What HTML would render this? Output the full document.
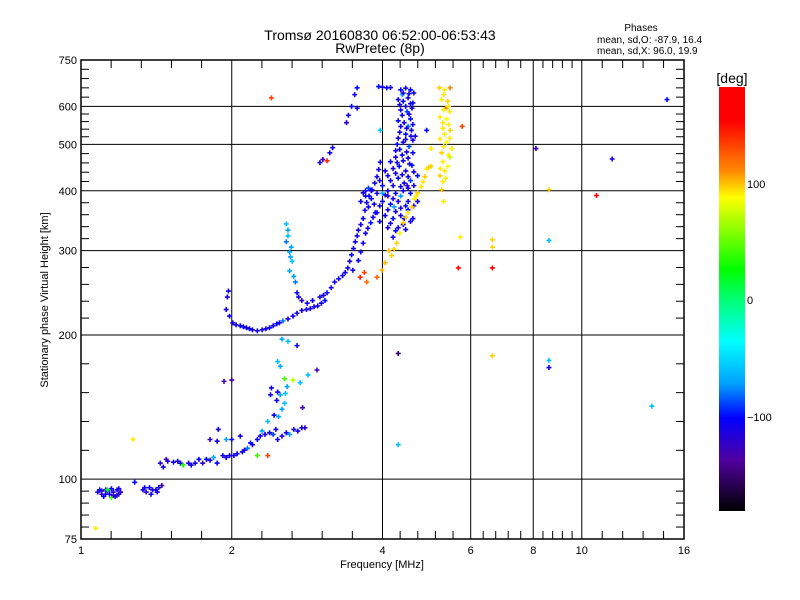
<!DOCTYPE html>
<html><head><meta charset="utf-8"><style>
html,body{margin:0;padding:0;background:#fff;}
svg{display:block;font-family:"Liberation Sans",sans-serif;}
</style></head><body>
<svg id="chart" width="800" height="600" viewBox="0 0 800 600">
<defs>
<linearGradient id="cmap" x1="0" y1="0" x2="0" y2="1">
<stop offset="0" stop-color="#ff0000"/><stop offset="0.08" stop-color="#ff0000"/>
<stop offset="0.2" stop-color="#ff8c00"/><stop offset="0.26" stop-color="#ffff00"/>
<stop offset="0.43" stop-color="#00ff00"/><stop offset="0.51" stop-color="#00ff80"/>
<stop offset="0.6" stop-color="#00ffff"/><stop offset="0.7" stop-color="#00a0ff"/>
<stop offset="0.78" stop-color="#0000ff"/><stop offset="0.88" stop-color="#5000a0"/>
<stop offset="1" stop-color="#000000"/>
</linearGradient>
</defs>
<g id="grid"></g>
<g id="points"></g>
<g id="axes"></g>
<text x="380" y="40" font-size="14" text-anchor="middle">Tromsø 20160830 06:52:00-06:53:43</text>
<text x="380" y="53" font-size="14" text-anchor="middle">RwPretec (8p)</text>
<text x="641" y="31" font-size="10" text-anchor="middle">Phases</text>
<text x="597" y="43" font-size="10">mean, sd,O: -87.9, 16.4</text>
<text x="597" y="54" font-size="10">mean, sd,X:  96.0, 19.9</text>
<text x="382" y="568" font-size="11" text-anchor="middle">Frequency [MHz]</text>
<text transform="translate(48,300) rotate(-90)" font-size="11" text-anchor="middle">Stationary phase Virtual Height [km]</text>
<g>
<rect x="719" y="87" width="26" height="424" fill="url(#cmap)"/>
<text x="732" y="83" font-size="14" text-anchor="middle">[deg]</text>
<text x="747" y="188" font-size="11">100</text>
<text x="747" y="304" font-size="11">0</text>
<text x="747" y="421" font-size="11">−100</text>
</g>
</svg>
<script>
// ---- data (frequency MHz, virtual height km, phase deg) ----
const xLabels = [1, 2, 4, 6, 8, 10, 16];
const xGrid = [2, 4, 6, 8, 10];
const yLabels = [75, 100, 200, 300, 400, 500, 600, 750];
const yGrid = [100, 200, 300, 400, 500, 600];

const eLayerPoints = [[1.08,94,-110],[1.10,93,-120],[1.12,95,-105],[1.14,93,-110],[1.16,94,-115],[1.18,95,-110],[1.19,93,-125],[1.11,92,-110],[1.15,95.5,-100],[1.17,92,-115],[1.13,94.5,-110],[1.20,94,-120],[1.09,95,-105],[1.18,92.5,-110],[1.13,95,20],[1.15,91.5,40],[1.10,94.5,-115],[1.12,93,-110],[1.16,92.5,-120],[1.19,95.5,-110],
[1.33,95,-110],[1.35,94,-120],[1.37,96,-105],[1.39,95,-110],[1.41,95,-115],[1.43,96,-110],[1.45,97,-130],[1.38,93,-110],[1.28,98.5,-100],[1.34,96,-110],[1.42,94,-110]];
const esPoints = [[1.44,108,-120],[1.49,109,-110],[1.53,108.5,-105],[1.58,108,-110],[1.64,108,-115],[1.69,108,-110],[1.75,108,-120],[1.81,109.5,-110],[1.87,108,-105],[1.92,112,-110],[1.98,112,-110],[2.05,113,-105],[2.10,114,-110],[2.15,116,-80],[2.20,118,-110],[2.25,121,-100],[2.33,124,-110],[2.42,124,-90],[2.52,123,-110],[2.61,124,-70],[2.71,126,-110],[2.80,128,-120],
[1.81,121,-120],[1.87,120,-110],[1.95,121,-70],[2.0,121,-110],[2.08,123,-110],[1.60,107,30],[1.48,110,-130],[1.72,110,-100],
[1.46,106,-110],[1.56,109,-110],[1.66,107,-110],[1.78,110,-100],[1.84,111,-70],[1.95,111,-110],[2.02,112,-110],[2.12,115,-110],[2.18,119,-100],[2.28,123,-110],[2.38,125,-110],[2.47,121,-110],[2.57,125,-110],[2.66,127,-110],[2.76,128,-110],[2.30,126,-70],[2.45,127,-110]];
const spreadPoints = [[2.52,140,-70],[2.46,146,-110],[2.50,150,-70],[2.47,152,-110],[2.56,151,-60],[2.40,155,-110],[2.50,172,-70],[2.47,176,-60],[2.52,196,-70],[2.59,194,-60],[2.70,190,-110],[2.84,165,-60],[2.96,169,-130],[2.43,136,-100],[2.36,132,-60],[2.65,161,70],[2.77,141,-130],[2.74,159,-60],[2.39,150,-110],[2.55,162,40],[2.48,135,-70],[2.55,144,-60],[2.58,156,-70]];
const fTracePoints = [[1.97,247,-110],[1.96,240,-110],[1.95,226,-110],[1.98,219,-110],[2.01,212,-110],[2.08,209,-105],[2.14,207,-110],[2.20,205,-110],[2.30,205,-110],[2.38,207,-105],[2.46,211,-100],[2.53,214,-80],[2.65,219,-110],[2.76,225,-110],[2.87,227,-110],[2.97,230,-110],[3.07,236,-100],
[2.04,210,-110],[2.11,208,-110],[2.17,206,-110],[2.25,204,-110],[2.34,206,-110],[2.42,209,-110],[2.49,212,-110],[2.59,216,-110],[2.70,222,-110],[2.82,226,-110],[2.92,229,-110],[3.02,233,-110],
[2.57,341,-60],[2.59,331,-70],[2.57,313,-80],[2.61,298,-70],[2.64,285,-60],[2.61,272,-70],[2.68,258,-80],[2.70,245,-110],[2.76,236,-120],[2.83,233,-110],[2.90,236,-110],[3.0,240,-110],[3.1,245,-105],[3.21,258,-110],[3.33,266,-110],[3.41,276,-110],[3.47,294,-100],[3.53,313,-110],[3.58,331,-110],[3.66,350,-105],[3.72,378,-110],[3.81,402,-100],[3.9,428,-110],[3.96,459,-110],
[2.59,322,-60],[2.63,305,-70],[2.62,291,-70],[2.66,265,-70],[2.72,240,-110],[3.05,242,-110],[3.16,251,-110],[3.27,262,-110],[3.37,270,-110],[3.44,285,-110],[3.50,303,-110],[3.56,322,-110],[3.62,340,-110],[3.69,364,-110],[3.76,390,-110],[3.86,415,-110],[3.93,443,-110],
[3.49,273,-110],[3.58,286,-100],[3.66,311,-110],[3.70,326,-110],[3.79,343,-100],[3.87,360,-110],[3.66,396,-110],[3.70,390,-100],[3.62,380,-110],[3.75,405,-90],[3.83,352,-110],[3.74,334,-110],[3.62,298,-110]];
const blobPoints = [[4.35,650,-100],[4.45,655,-110],[4.55,650,-100],[4.3,620,-110],[4.4,615,-100],[4.5,625,-110],[4.6,610,-100],[4.35,590,-110],[4.48,585,-90],[4.58,595,-110],[4.3,560,-100],[4.42,555,-110],[4.55,565,-100],[4.33,530,-110],[4.45,525,-100],[4.57,535,-110],[4.28,500,-100],[4.4,505,-110],[4.52,495,-90],[4.6,510,-110],[4.25,470,-110],[4.38,475,-100],[4.5,468,-110],[4.6,480,-100],[4.2,445,-110],[4.32,450,-100],[4.45,440,-110],[4.58,452,-100],[4.15,420,-110],[4.3,425,-100],[4.42,415,-110],[4.55,420,-90],[4.1,400,-110],[4.25,395,-100],[4.4,400,-110],[4.55,395,-100],[4.0,380,-110],[4.15,375,-100],[4.3,380,-110],[4.45,372,-100],[3.9,395,-110],[3.8,385,-100],[3.7,400,-110],[3.75,370,-110],[3.9,360,-100],[4.05,355,-110],[4.2,350,-100],[4.35,355,-110],[4.5,365,-100],[4.1,335,-110],[4.25,330,-100],[4.4,340,-110],[4.6,350,-100],[4.7,380,-110],[4.7,430,-100],[4.65,520,-110],[4.2,320,-110],[4.62,640,-110],[4.38,635,-70],[4.5,545,-80],[4.25,485,-110],[4.48,410,-120],[4.0,410,-100],[4.05,440,-110],[4.15,460,-100],[4.1,390,-120],[3.95,345,-110],[4.35,390,-70],
[4.40,640,-110],[4.52,638,-110],[4.33,605,-110],[4.45,600,-110],[4.55,608,-110],[4.38,575,-110],[4.52,578,-110],[4.35,545,-110],[4.47,540,-110],[4.6,550,-110],[4.3,515,-110],[4.45,512,-110],[4.56,520,-110],[4.33,488,-110],[4.47,482,-110],[4.28,458,-110],[4.4,462,-110],[4.53,455,-110],[4.25,435,-110],[4.38,432,-110],[4.5,428,-110],[4.62,438,-110],[4.2,410,-110],[4.35,408,-110],[4.5,405,-110],[4.62,410,-110],[4.05,392,-110],[4.2,385,-110],[4.35,368,-110],[4.5,380,-110],[4.62,372,-110],[3.95,372,-110],[4.1,365,-110],[4.25,362,-110],[4.42,350,-110],[4.55,345,-110],[4.15,342,-110],[4.3,335,-110],[4.45,332,-110],[3.85,375,-110],[3.8,400,-110],[3.95,420,-110],[4.1,430,-110],[4.0,395,-70],[4.22,370,-70],
[3.93,660,-100],[4.0,658,-110],[4.08,656,-100],[4.15,657,-110]];
const xTracePoints = [[3.61,264,140],[3.72,258,120],[3.9,264,120],[3.99,273,100],[4.05,283,100],[4.17,293,95],[4.27,311,95],[4.33,326,90],[4.4,343,95],[4.5,360,90],[4.58,370,95],[4.63,384,90],[4.7,396,95],[4.78,408,90],[4.86,428,95],[4.9,444,90],[5.0,450,95],[3.68,270,130],[4.12,300,100],[4.22,302,95],[4.45,352,95],[4.67,390,90],[4.82,418,90],[4.95,448,95],
[5.2,656,95],[5.32,650,90],[5.46,656,110],[5.25,620,90],[5.4,615,95],[5.21,570,90],[5.37,565,85],[5.28,540,90],[5.46,535,95],[5.21,513,90],[5.37,505,85],[5.5,490,90],[5.25,480,95],[5.28,460,90],[5.4,450,85],[5.21,430,95],[5.28,418,90],[5.25,402,95],[5.0,490,90],[5.35,595,110],[5.45,470,70],[5.3,380,90],
[5.3,635,90],[5.42,600,90],[5.3,590,90],[5.45,585,90],[5.28,555,90],[5.42,550,90],[5.32,525,90],[5.45,515,90],[5.3,495,90],[5.42,475,90],[5.33,440,90],[5.22,445,90],[5.35,425,90]];
const upperTracePoints = [[3.56,656,-100],[3.52,635,-110],[3.47,600,-100],[3.56,595,-110],[3.42,575,-110],[3.39,555,-120],[3.18,492,-110],[3.14,480,-110],[3.04,465,-130],[3.0,458,-110],[3.1,462,140]];
const isolatedPoints = [[2.4,625,130],[3.96,535,-60],[4.9,535,-100],[5.77,545,130],[8.1,490,-130],[8.6,402,95],[8.6,315,-60],[5.72,320,90],[5.67,276,150],[6.63,316,95],[6.63,305,95],[6.63,276,160],[10.7,391,160],[11.5,466,-110],[14.8,620,-100],[6.63,181,95],[8.6,177,-60],[8.6,171,-110],[4.3,183,-150],[4.3,118,-60],[13.8,142,-60],[1.27,121,90],[1.07,79,90],[2.0,161,-130],[1.93,160,-130],[2.36,112,130],[2.25,112,40],[1.88,127,-110]];

// ---- axes ----
const X0 = 81, X1 = 684, YT = 60, YB = 539;
function xs(f){ return X0 + (X1 - X0) * Math.log2(f) / 4; }
function ys(h){ return YB - (YB - YT) * Math.log10(h / 75); }
function phaseColor(p){
  const t = Math.max(0, Math.min(1, (180 - p) / 360));
  const st = [[0,[255,0,0]],[0.08,[255,0,0]],[0.2,[255,140,0]],[0.26,[255,255,0]],[0.43,[0,255,0]],[0.51,[0,255,128]],[0.6,[0,255,255]],[0.7,[0,160,255]],[0.78,[0,0,255]],[0.88,[80,0,160]],[1,[0,0,0]]];
  for (let i = 1; i < st.length; i++) {
    if (t <= st[i][0]) {
      const a = st[i-1], b = st[i], u = (t - a[0]) / (b[0] - a[0] || 1);
      const c = a[1].map((v, k) => Math.round(v + (b[1][k] - v) * u));
      return 'rgb(' + c.join(',') + ')';
    }
  }
  return '#000';
}
const NS = 'http://www.w3.org/2000/svg';
function mk(tag, attrs, parent){
  const e = document.createElementNS(NS, tag);
  for (const k in attrs) e.setAttribute(k, attrs[k]);
  parent.appendChild(e);
  return e;
}
const grid = document.getElementById('grid');
const axes = document.getElementById('axes');
const pts = document.getElementById('points');

xGrid.forEach(f => {
  const l = mk('line', {x1: xs(f), x2: xs(f), y1: YT, y2: YB, stroke: '#000', 'stroke-width': 1}, grid);
  
  
});
yGrid.forEach(h => {
  const l = mk('line', {x1: X0, x2: X1, y1: ys(h), y2: ys(h), stroke: '#000', 'stroke-width': 1}, grid);
  
  
});

for (let i = 0; i < xLabels.length - 1; i++) {
  const a = xLabels[i], b = xLabels[i+1];
  for (let k = 1; k < 5; k++) {
    const f = a * Math.pow(b / a, k / 5);
    mk('line', {x1: xs(f), x2: xs(f), y1: YB, y2: YB - 8, stroke: '#000'}, axes);
    mk('line', {x1: xs(f), x2: xs(f), y1: YT, y2: YT + 8, stroke: '#000'}, axes);
  }
}
for (let i = 0; i < yLabels.length - 1; i++) {
  const a = yLabels[i], b = yLabels[i+1];
  for (let k = 1; k < 5; k++) {
    const h = a * Math.pow(b / a, k / 5);
    mk('line', {x1: X0, x2: X0 + 8, y1: ys(h), y2: ys(h), stroke: '#000'}, axes);
    mk('line', {x1: X1, x2: X1 - 8, y1: ys(h), y2: ys(h), stroke: '#000'}, axes);
  }
}
const frame = mk('rect', {x: X0, y: YT, width: X1 - X0, height: YB - YT, fill: 'none', stroke: '#000', 'stroke-width': 1.5}, axes);



xLabels.forEach(f => {
  const t = mk('text', {x: xs(f), y: 554, 'font-size': 11, 'text-anchor': 'middle'}, axes);
  t.textContent = f;
  
  
});
yLabels.forEach(h => {
  const t = mk('text', {x: 77, y: ys(h) + 4, 'font-size': 11, 'text-anchor': 'end'}, axes);
  t.textContent = h;
  
  
});

function drawGroup(arr, name){
  const g = mk('g', {}, pts);
  
  
  arr.forEach(p => {
    const x = xs(p[0]), y = ys(p[1]), c = phaseColor(p[2]);
    const m = mk('path', {d: 'M' + (x - 2.5) + ' ' + y + 'h5M' + x + ' ' + (y - 2.5) + 'v5', stroke: c, 'stroke-width': 1.6, fill: 'none'}, g);
    
    
  });
}
drawGroup(eLayerPoints, 'e-layer-echoes');
drawGroup(esPoints, 'es-layer-echoes');
drawGroup(spreadPoints, 'spread-echoes');
drawGroup(fTracePoints, 'f-o-trace');
drawGroup(blobPoints, 'f-o-dense-echoes');
drawGroup(xTracePoints, 'f-x-trace');
drawGroup(upperTracePoints, 'upper-trace');
drawGroup(isolatedPoints, 'isolated-echoes');
</script>
</body></html>
